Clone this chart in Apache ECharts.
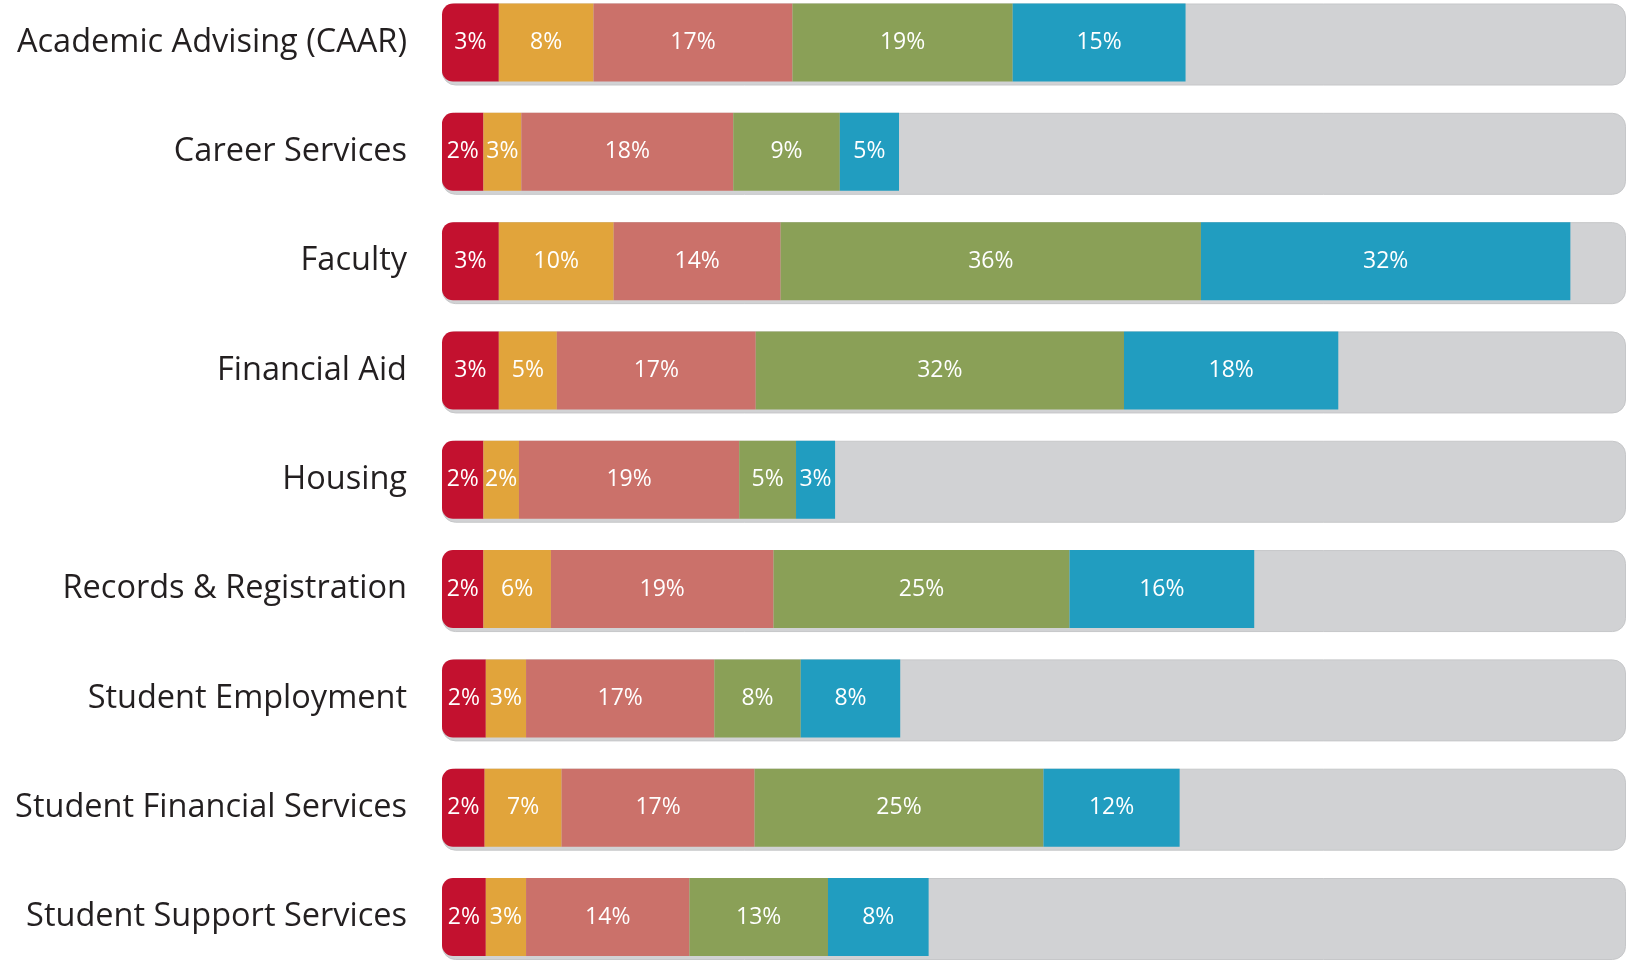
<!DOCTYPE html>
<html>
<head>
<meta charset="utf-8">
<script src="https://cdn.jsdelivr.net/npm/echarts@6/dist/echarts.min.js"></script>
<style>
  html, body { margin: 0; padding: 0; background: #ffffff; }
  #chart { width: 1627px; height: 964px; }
</style>
</head>
<body>
<div id="chart"></div>
<script>
// Categories, top to bottom
const categories = [
  'Academic Advising (CAAR)',
  'Career Services',
  'Faculty',
  'Financial Aid',
  'Housing',
  'Records & Registration',
  'Student Employment',
  'Student Financial Services',
  'Student Support Services'
];

// Printed percentage labels for each segment
const redLabels    = [3, 2, 3, 3, 2, 2, 2, 2, 2];
const orangeLabels = [8, 3, 10, 5, 2, 6, 3, 7, 3];
const pinkLabels   = [17, 18, 14, 17, 19, 19, 17, 17, 14];
const greenLabels  = [19, 9, 36, 32, 5, 25, 8, 25, 13];
const blueLabels   = [15, 5, 32, 18, 3, 16, 8, 12, 8];

// Segment lengths as drawn in the picture (percent of the full track)
const redValues    = [4.8, 3.5, 4.8, 4.8, 3.5, 3.5, 3.7, 3.6, 3.7];
const orangeValues = [8.0, 3.2, 9.7, 4.9, 3.0, 5.7, 3.4, 6.5, 3.4];
const pinkValues   = [16.8, 17.9, 14.1, 16.8, 18.6, 18.8, 15.9, 16.3, 13.8];
const greenValues  = [18.6, 9.0, 35.5, 31.1, 4.8, 25.0, 7.3, 24.4, 11.7];
const blueValues   = [14.6, 5.0, 31.2, 18.1, 3.3, 15.6, 8.4, 11.5, 8.5];

// Full track value
const trackValues = categories.map(() => 100);

const FONT = '"Open Sans"';

function seg(name, values, labels, color, radius) {
  return {
    name: name,
    type: 'bar',
    stack: 'total',
    barWidth: 78,
    z: 3,
    itemStyle: { color: color, borderRadius: radius || 0 },
    label: {
      show: true,
      position: 'inside',
      color: '#ffffff',
      fontFamily: FONT,
      fontSize: 23,
      formatter: p => labels[p.dataIndex] + '%'
    },
    data: values
  };
}

const chart = echarts.init(document.getElementById('chart'), null, { renderer: 'canvas' });
chart.setOption({
  animation: false,
  backgroundColor: '#ffffff',
  grid: { left: 442, right: 1, top: 42.5, bottom: 47 },
  xAxis: {
    type: 'value', min: 0, max: 100,
    show: false
  },
  yAxis: {
    type: 'category',
    data: categories,
    inverse: true,
    boundaryGap: false,
    axisLine: { show: false },
    axisTick: { show: false },
    splitLine: { show: false },
    axisLabel: {
      margin: 35,
      color: '#231f20',
      fontFamily: FONT,
      fontSize: 32.5
    }
  },
  series: [
    {
      name: 'track',
      type: 'bar',
      barWidth: 82,
      barGap: '-100%',
      z: 1,
      silent: true,
      itemStyle: { color: '#d1d2d4', borderRadius: 13, borderColor: '#c6c7c9', borderWidth: 1 },
      data: trackValues
    },
    seg('s1', redValues, redLabels, '#c3112f', [11, 0, 0, 11]),
    seg('s2', orangeValues, orangeLabels, '#e1a43b'),
    seg('s3', pinkValues, pinkLabels, '#cb716a'),
    seg('s4', greenValues, greenLabels, '#8aa057'),
    seg('s5', blueValues, blueLabels, '#219dc0')
  ]
});
</script>
</body>
</html>
